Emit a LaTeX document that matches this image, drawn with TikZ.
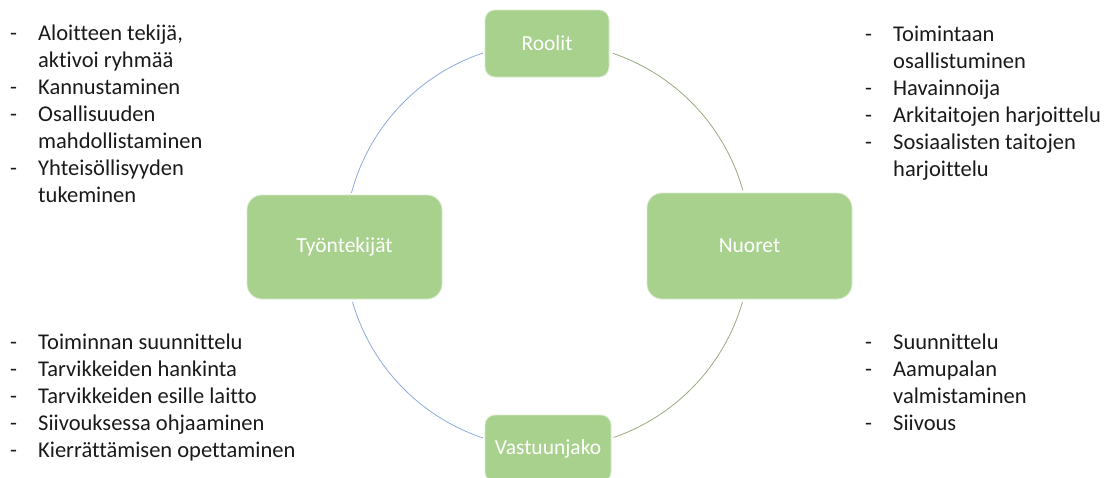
\documentclass[tikz,border=0pt]{standalone}
\usepackage{fontspec}
\setmainfont{Carlito}[Ligatures=NoCommon]
\usetikzlibrary{calc}
\definecolor{boxgreen}{HTML}{A9D18E}
\definecolor{arcblue}{HTML}{8EA9DB}
\definecolor{arcgreen}{HTML}{97AB7E}
\definecolor{txt}{HTML}{1A1A1A}
\newcommand{\dsh}{\makebox[28pt][l]{-}}
\newcommand{\ind}{\hspace*{28pt}}
\begin{document}
\begin{tikzpicture}[x=1pt,y=-1pt,
  box/.style={draw=white!55!boxgreen, line width=0.8pt, fill=boxgreen, text=white,
    font=\fontsize{21.5}{24}\selectfont, inner sep=0pt},
  smallbox/.style={box, rounded corners=10pt},
  bigbox/.style={box, rounded corners=15pt},
  listtext/.style={anchor=base west, align=left, inner sep=0pt, text=txt,
    font=\fontsize{22.5}{27}\selectfont},
  leftarc/.style={draw=arcblue, line width=0.8pt},
  rightarc/.style={draw=arcgreen, line width=0.8pt}]
\useasboundingbox (0,0) rectangle (1109,477);
\coordinate (ctr) at (547.5,245.5);
% boxes
\node[smallbox, minimum width=124pt, minimum height=67pt] (roolit) at (547,43.5) {Roolit};
\node[smallbox, minimum width=126pt, minimum height=67pt] (vastuu) at (548,448.5) {Vastuunjako};
\node[bigbox, minimum width=195pt, minimum height=104pt] (tyon) at (344.5,247) {Työntekijät};
\node[bigbox, minimum width=205pt, minimum height=106pt] (nuoret) at (749.5,246) {Nuoret};
% arcs
\draw[leftarc] ($(ctr)+(-108.5:203)$) arc[start angle=-108.5, end angle=-165, radius=203];
\draw[leftarc] ($(ctr)+(163.9:203)$) arc[start angle=163.9, end angle=108.5, radius=203];
\draw[rightarc] ($(ctr)+(-71.2:203)$) arc[start angle=-71.2, end angle=-15.8, radius=203];
\draw[rightarc] ($(ctr)+(16.1:203)$) arc[start angle=16.1, end angle=71, radius=203];
% lists (anchored at the baseline of their last line)
\node[listtext] (tl) at (10,202) {\dsh Aloitteen tekijä,\\ \ind aktivoi ryhmää\\ \dsh Kannustaminen\\ \dsh Osallisuuden\\ \ind mahdollistaminen\\ \dsh Yhteisöllisyyden\\ \ind tukeminen};
\node[listtext] (tr) at (865,176) {\dsh Toimintaan\\ \ind osallistuminen\\ \dsh Havainnoija\\ \dsh Arkitaitojen harjoittelu\\ \dsh Sosiaalisten taitojen\\ \ind harjoittelu};
\node[listtext] (bl) at (10,457.5) {\dsh Toiminnan suunnittelu\\ \dsh Tarvikkeiden hankinta\\ \dsh Tarvikkeiden esille laitto\\ \dsh Siivouksessa ohjaaminen\\ \dsh Kierrättämisen opettaminen};
\node[listtext] (br) at (865,430.5) {\dsh Suunnittelu\\ \dsh Aamupalan\\ \ind valmistaminen\\ \dsh Siivous};
\end{tikzpicture}
\end{document}
